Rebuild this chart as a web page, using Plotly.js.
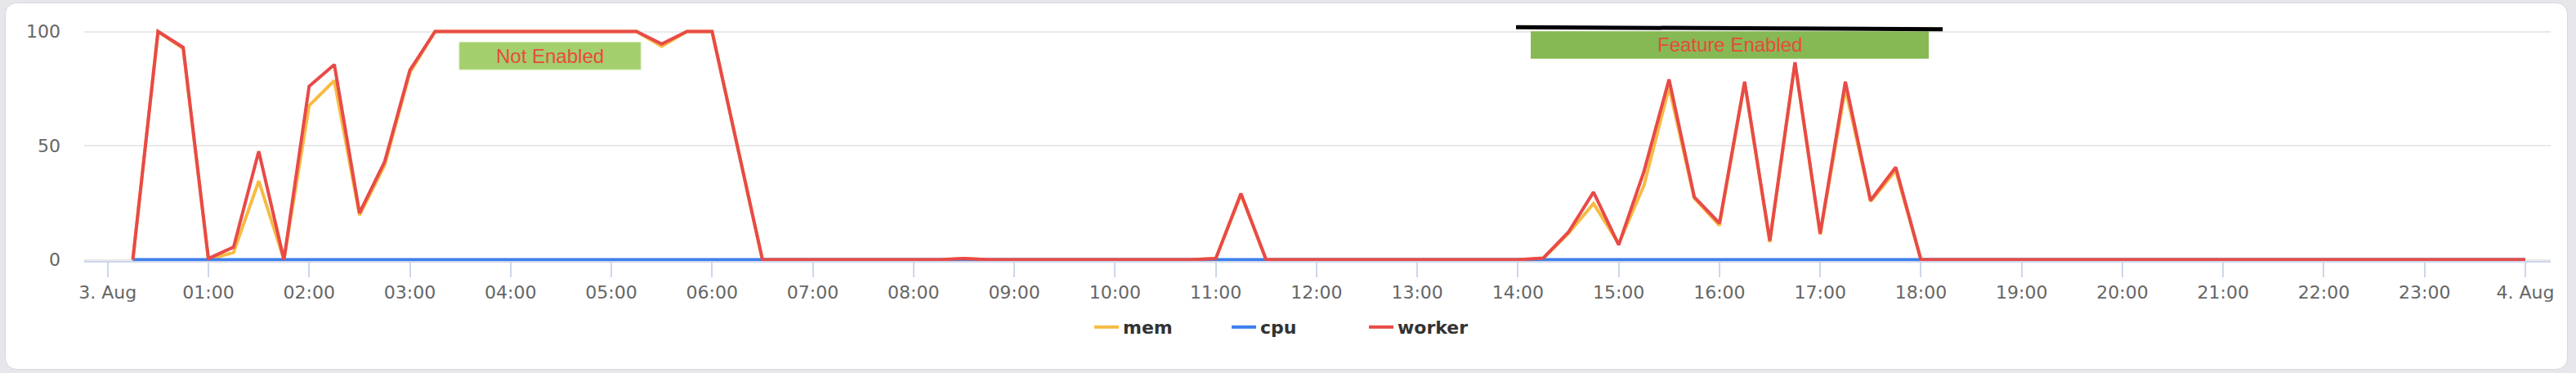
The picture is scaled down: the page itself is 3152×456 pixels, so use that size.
<!DOCTYPE html>
<html>
<head>
<meta charset="utf-8">
<script src="https://cdn.plot.ly/plotly-3.0.1.min.js"></script>
<style>
  html, body { margin: 0; padding: 0; width: 3152px; height: 456px; background: #e6e6eb; overflow: hidden; }
  #card { position: absolute; left: 6px; top: 3px; width: 3134px; height: 447px; background: #ffffff;
          border: 1px solid #d8d8de; border-radius: 14px; }
  #chart { position: absolute; left: 0; top: 0; width: 3152px; height: 456px; }
</style>
</head>
<body>
<div id="card"></div>
<div id="chart"></div>
<script>
// ---- data (15-minute samples, 3 Aug 00:15 -> 4 Aug 00:00) ----
const START = '2023-08-03 00:15';
const STEP_MINUTES = 15;

const mem = [
  0, 100, 92.5, 0, 3.2, 34.5, 0, 67.5, 78.5, 19.5, 41.5, 82,
  100, 100, 100, 100, 100, 100, 100, 100, 100, 93.5, 100, 100,
  50, 0, 0, 0, 0, 0, 0, 0, 0, 0.5, 0, 0,
  0, 0, 0, 0, 0, 0, 0, 0.5, 28.5, 0, 0, 0,
  0, 0, 0, 0, 0, 0, 0, 0, 0.5, 11.5, 24.6, 7,
  32.5, 75.5, 27, 15, 77.5, 7.6, 86, 11, 75, 25.5, 39, 0,
  0, 0, 0, 0, 0, 0, 0, 0, 0, 0, 0, 0,
  0, 0, 0, 0, 0, 0, 0, 0, 0, 0, 0, 0
];
const cpu = [
  0, 0, 0, 0, 0, 0, 0, 0, 0, 0, 0, 0,
  0, 0, 0, 0, 0, 0, 0, 0, 0, 0, 0, 0,
  0, 0, 0, 0, 0, 0, 0, 0, 0, 0, 0, 0,
  0, 0, 0, 0, 0, 0, 0, 0, 0, 0, 0, 0,
  0, 0, 0, 0, 0, 0, 0, 0, 0, 0, 0, 0,
  0, 0, 0, 0, 0, 0, 0, 0, 0, 0, 0, 0,
  0, 0, 0, 0, 0, 0, 0, 0, 0, 0, 0, 0,
  0, 0, 0, 0, 0, 0, 0, 0, 0, 0, 0, 0
];
const worker = [
  0, 100, 93, 0.5, 5.5, 47.5, 0, 76, 85.5, 20.5, 43, 83,
  100, 100, 100, 100, 100, 100, 100, 100, 100, 94.5, 100, 100,
  50, 0, 0, 0, 0, 0, 0, 0, 0, 0.5, 0, 0,
  0, 0, 0, 0, 0, 0, 0, 0.5, 29, 0, 0, 0,
  0, 0, 0, 0, 0, 0, 0, 0, 0.7, 12, 29.6, 6.5,
  38.6, 79, 27.5, 16, 78, 8.3, 86.5, 11.5, 78, 26, 40.5, 0,
  0, 0, 0, 0, 0, 0, 0, 0, 0, 0, 0, 0,
  0, 0, 0, 0, 0, 0, 0, 0, 0, 0, 0, 0
];

const seriesNames = ['mem', 'cpu', 'worker'];
const seriesColors = ['#f7bb43', '#3d7fec', '#e84a48'];

const tickTimes = [
  '2023-08-03 00:00', '2023-08-03 01:00', '2023-08-03 02:00', '2023-08-03 03:00', '2023-08-03 04:00',
  '2023-08-03 05:00', '2023-08-03 06:00', '2023-08-03 07:00', '2023-08-03 08:00', '2023-08-03 09:00',
  '2023-08-03 10:00', '2023-08-03 11:00', '2023-08-03 12:00', '2023-08-03 13:00', '2023-08-03 14:00',
  '2023-08-03 15:00', '2023-08-03 16:00', '2023-08-03 17:00', '2023-08-03 18:00', '2023-08-03 19:00',
  '2023-08-03 20:00', '2023-08-03 21:00', '2023-08-03 22:00', '2023-08-03 23:00', '2023-08-04 00:00'
];
const tickLabels = [
  '3. Aug', '01:00', '02:00', '03:00', '04:00', '05:00', '06:00', '07:00', '08:00', '09:00',
  '10:00', '11:00', '12:00', '13:00', '14:00', '15:00', '16:00', '17:00', '18:00', '19:00',
  '20:00', '21:00', '22:00', '23:00', '4. Aug'
];

// ---- helpers ----
function pad(n) { return (n < 10 ? '0' : '') + n; }
function fmt(ms) {
  const d = new Date(ms);
  return d.getUTCFullYear() + '-' + pad(d.getUTCMonth() + 1) + '-' + pad(d.getUTCDate()) + ' ' +
         pad(d.getUTCHours()) + ':' + pad(d.getUTCMinutes()) + ':' + pad(d.getUTCSeconds());
}
const DAY0 = Date.UTC(2023, 7, 3, 0, 0, 0);
function atHour(h) { return fmt(DAY0 + h * 3600000); }
const startMs = Date.UTC(2023, 7, 3, 0, 15, 0);
const times = worker.map((_, i) => fmt(startMs + i * STEP_MINUTES * 60000));

const seriesValues = [mem, cpu, worker];
const traces = seriesNames.map((name, k) => ({
  type: 'scatter',
  mode: 'lines',
  name: name,
  x: times,
  y: seriesValues[k],
  line: { color: seriesColors[k], width: 4 },
  hoverinfo: 'x+y+name'
}));

const axisFont = { family: 'DejaVu Sans, sans-serif', size: 22, color: '#666666' };
const noteFont = { family: 'Liberation Sans, Arial, sans-serif', size: 24, color: '#e84a3e' };

const layout = {
  width: 3152,
  height: 456,
  paper_bgcolor: 'rgba(0,0,0,0)',
  plot_bgcolor: 'rgba(0,0,0,0)',
  margin: { l: 103, r: 31, t: 24, b: 137, pad: 0 },
  showlegend: true,
  xaxis: {
    type: 'date',
    range: [atHour(-0.2328), atHour(24.2515)],
    tickmode: 'array',
    tickvals: tickTimes,
    ticktext: tickLabels,
    tickfont: axisFont,
    showgrid: false,
    zeroline: false,
    showline: true,
    linecolor: '#ccd6eb',
    linewidth: 2,
    ticks: 'outside',
    ticklen: 18,
    tickwidth: 2,
    tickcolor: '#ccd6eb',
    fixedrange: true
  },
  yaxis: {
    range: [-0.5376, 105.197],
    tickmode: 'array',
    tickvals: [0, 50, 100],
    ticktext: ['0', '50', '100'],
    tickfont: axisFont,
    showgrid: true,
    gridcolor: '#e9e9e9',
    gridwidth: 2,
    zeroline: false,
    showline: false,
    ticks: '',
    ticklabelstandoff: 28,
    fixedrange: true
  },
  legend: {
    orientation: 'h',
    xref: 'container',
    yref: 'container',
    x: 0.5 + 10 / 3152,
    xanchor: 'center',
    y: 56 / 456,
    yanchor: 'middle',
    entrywidth: 123,
    entrywidthmode: 'pixels',
    bgcolor: 'rgba(0,0,0,0)',
    font: { family: 'DejaVu Sans, sans-serif', size: 22, color: '#333333', weight: 'bold' }
  },
  shapes: [
    { type: 'rect', xref: 'x', yref: 'y', layer: 'above',
      x0: atHour(3.491), x1: atHour(5.292), y0: 83.3, y1: 95.27,
      fillcolor: '#a3cf6c', line: { width: 1, color: '#c4e3a0' } },
    { type: 'rect', xref: 'x', yref: 'y', layer: 'above',
      x0: atHour(14.127), x1: atHour(18.078), y0: 88.1, y1: 100.07,
      fillcolor: '#86b853', line: { width: 0 } },
    { type: 'line', xref: 'x', yref: 'y', layer: 'above',
      x0: atHour(13.981), x1: atHour(18.216), y0: 101.86, y1: 101.0,
      line: { color: '#000000', width: 5 } }
  ],
  annotations: [
    { xref: 'x', yref: 'y', x: atHour(4.39), y: 89.3, text: 'Not Enabled', showarrow: false,
      font: noteFont, xanchor: 'center', yanchor: 'middle' },
    { xref: 'x', yref: 'y', x: atHour(16.1), y: 94.1, text: 'Feature Enabled', showarrow: false,
      font: noteFont, xanchor: 'center', yanchor: 'middle' }
  ]
};

Plotly.newPlot('chart', traces, layout, { displayModeBar: false, staticPlot: true });
</script>
</body>
</html>
